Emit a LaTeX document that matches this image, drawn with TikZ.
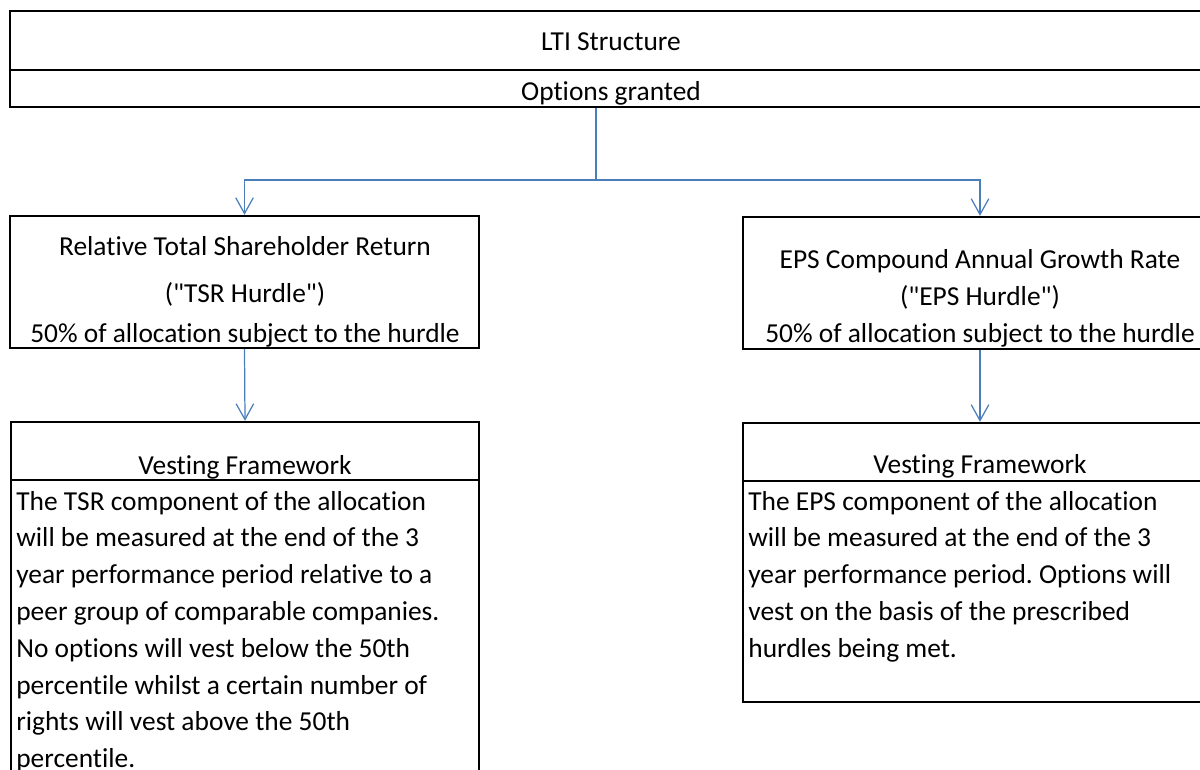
\documentclass[tikz,border=0pt]{standalone}
\usepackage{fontspec}
\setmainfont{Carlito}[Ligatures={TeXOff,NoCommon}]
\usetikzlibrary{arrows.meta,fit,positioning}
\definecolor{linkblue}{RGB}{74,126,187}
\frenchspacing

\tikzset{
  box/.style={draw, line width=1.4pt, inner sep=0pt},
  txt/.style={anchor=base, inner sep=0pt, font=\fontsize{15.6}{20}\selectfont},
  body/.style={anchor=base west, inner sep=0pt, font=\fontsize{15.6}{20}\selectfont},
  link/.style={draw=linkblue, line width=0.7pt},
  tip/.style={-{Straight Barb[length=9pt,width=10pt]}},
}

\begin{document}
\begin{tikzpicture}[x=0.02cm, y=-0.02cm]
            \clip (0,0) rectangle (1200,769);
            % header
            \node[box, fit={(10,11) (1212,70)}] (lti) {};
            \node[box, fit={(10,70) (1212,107)}] (opt) {};
            \node[txt] (ltitxt) at (611,50) {LTI Structure};
            \node[txt] (opttxt) at (611,100) {Options granted};

            % hurdles
            \node[box, fit={(10,216) (479,348)}] (tsr) {};
            \node[txt] (tsr1) at (245,255) {Relative Total Shareholder Return};
            \node[txt] (tsr2) at (245,302) {("TSR Hurdle")};
            \node[txt] (tsr3) at (245,342) {50\% of allocation subject to the hurdle};

            \node[box, fit={(743,217) (1217,349)}] (eps) {};
            \node[txt] (eps1) at (980,268) {EPS Compound Annual Growth Rate};
            \node[txt] (eps2) at (980,305) {("EPS Hurdle")};
            \node[txt] (eps3) at (980,342) {50\% of allocation subject to the hurdle};

            % vesting frameworks
            \node[box, fit={(11,422) (479,480)}] (tsrhead) {};
            \node[box, fit={(11,480) (479,800)}] (tsrvest) {};
            \node[txt] (tsrtitle) at (245,474) {Vesting Framework};
            \foreach \ln [count=\i from 0] in {The TSR component of the allocation,
                will be measured at the end of the 3,
                year performance period relative to a,
                peer group of comparable companies.,
                No options will vest below the 50th,
                percentile whilst a certain number of,
                rights will vest above the 50th,
                percentile.}
              \node[body] (tsrl\i) at (16,510+36.8*\i) {\ln};

            \node[box, fit={(743,423) (1217,481)}] (epshead) {};
            \node[box, fit={(743,481) (1217,702)}] (epsvest) {};
            \node[txt] (epstitle) at (980,473) {Vesting Framework};
            \foreach \ln [count=\i from 0] in {The EPS component of the allocation,
                will be measured at the end of the 3,
                year performance period. Options will,
                vest on the basis of the prescribed,
                hurdles being met.}
              \node[body] (epsl\i) at (748,510+36.8*\i) {\ln};

            % connectors
            \coordinate (split) at (596,180);
            \draw[link] (opt.south -| split) -- (split);
            \draw[link, tip] (split) -| (tsr.north);
            \draw[link, tip] (split) -| (eps.north);
            \draw[link, tip] (tsr.south) -- (tsrhead.north);
            \draw[link, tip] (eps.south) -- (epshead.north);
        \end{tikzpicture}
\end{document}
